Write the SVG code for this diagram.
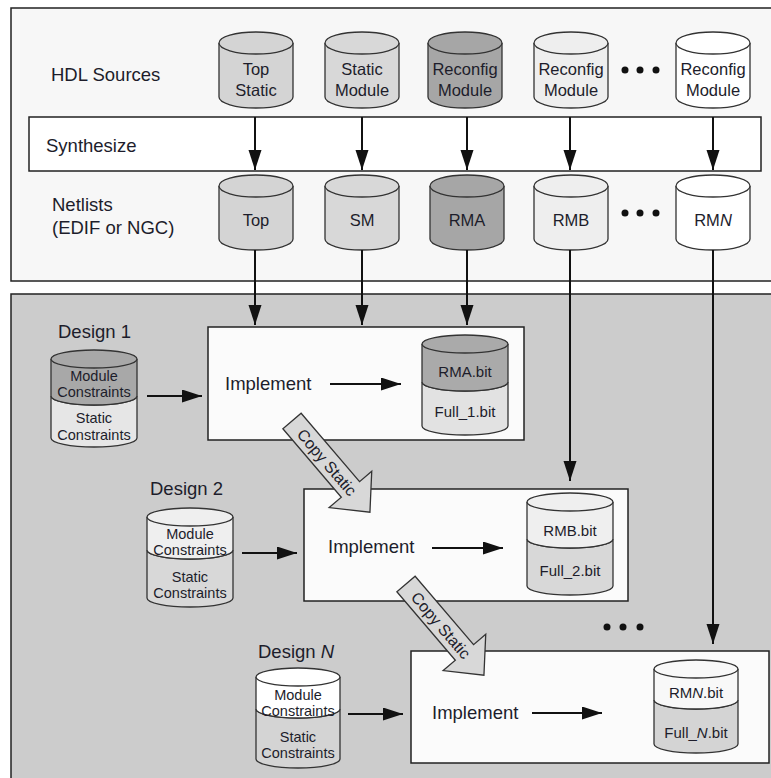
<svg xmlns="http://www.w3.org/2000/svg" width="771" height="778" viewBox="0 0 771 778">
<defs>
<marker id="ah" markerUnits="userSpaceOnUse" markerWidth="22" markerHeight="14" refX="20" refY="6.5" orient="auto"><path d="M0,0 L20,6.5 L0,13 Z" fill="#111"/></marker>
<style>
text{font-family:"Liberation Sans",Arial,sans-serif;fill:#1d1d2b}
.lbl{font-size:18.5px}
.cyl{font-size:16.5px;text-anchor:middle}
.sm{font-size:14.5px;text-anchor:middle}
.cs{font-size:16px;text-anchor:middle}
.bit{font-size:15px;text-anchor:middle}
.s{stroke:#333;stroke-width:1.3}
.c{stroke:#111;stroke-width:2;fill:none;marker-end:url(#ah)}
.dot{fill:#111}
</style>
</defs>
<rect x="11" y="8" width="780" height="273" fill="#f7f7f7" stroke="#222" stroke-width="1.5"/>
<rect x="11" y="294" width="780" height="500" fill="#cccccc" stroke="#222" stroke-width="1.5"/>
<rect x="29" y="117" width="732" height="54" fill="#fff" stroke="#222" stroke-width="1.5"/>
<g id="labels">
<text class="lbl" x="51" y="81">HDL Sources</text>
<text class="lbl" x="46" y="152">Synthesize</text>
<text class="lbl" x="52" y="211">Netlists</text>
<text class="lbl" x="52" y="234">(EDIF or NGC)</text>
</g>
<g id="src-top"><path class="s" fill="#d4d4d4" d="M219,43 L219,97 A37,11 0 0 0 293,97 L293,43"/><ellipse class="s" fill="#d4d4d4" cx="256" cy="43" rx="37" ry="11"/><text class="cyl" x="256" y="75">Top</text><text class="cyl" x="256" y="96">Static</text></g>
<g id="src-static"><path class="s" fill="#d8d8d8" d="M325,43 L325,97 A37,11 0 0 0 399,97 L399,43"/><ellipse class="s" fill="#d8d8d8" cx="362" cy="43" rx="37" ry="11"/><text class="cyl" x="362" y="75">Static</text><text class="cyl" x="362" y="96">Module</text></g>
<g id="src-rma"><path class="s" fill="#a6a6a6" d="M428,43 L428,97 A37,11 0 0 0 502,97 L502,43"/><ellipse class="s" fill="#a6a6a6" cx="465" cy="43" rx="37" ry="11"/><text class="cyl" x="465" y="75">Reconfig</text><text class="cyl" x="465" y="96">Module</text></g>
<g id="src-rmb"><path class="s" fill="#eeeeee" d="M534,43 L534,97 A37,11 0 0 0 608,97 L608,43"/><ellipse class="s" fill="#eeeeee" cx="571" cy="43" rx="37" ry="11"/><text class="cyl" x="571" y="75">Reconfig</text><text class="cyl" x="571" y="96">Module</text></g>
<g id="src-rmn"><path class="s" fill="#ffffff" d="M676,43 L676,97 A37,11 0 0 0 750,97 L750,43"/><ellipse class="s" fill="#ffffff" cx="713" cy="43" rx="37" ry="11"/><text class="cyl" x="713" y="75">Reconfig</text><text class="cyl" x="713" y="96">Module</text></g>
<g id="dots-top"><circle class="dot" cx="625" cy="70" r="3.5"/><circle class="dot" cx="640" cy="70" r="3.5"/><circle class="dot" cx="656" cy="70" r="3.5"/></g>
<g id="net-top"><path class="s" fill="#d4d4d4" d="M219,186 L219,239 A37,11 0 0 0 293,239 L293,186"/><ellipse class="s" fill="#d4d4d4" cx="256" cy="186" rx="37" ry="11"/><text class="cyl" x="256" y="226">Top</text></g>
<g id="net-sm"><path class="s" fill="#d8d8d8" d="M325,186 L325,239 A37,11 0 0 0 399,239 L399,186"/><ellipse class="s" fill="#d8d8d8" cx="362" cy="186" rx="37" ry="11"/><text class="cyl" x="362" y="226">SM</text></g>
<g id="net-rma"><path class="s" fill="#a6a6a6" d="M430,186 L430,239 A37,11 0 0 0 504,239 L504,186"/><ellipse class="s" fill="#a6a6a6" cx="467" cy="186" rx="37" ry="11"/><text class="cyl" x="467" y="226">RMA</text></g>
<g id="net-rmb"><path class="s" fill="#eeeeee" d="M534,186 L534,239 A37,11 0 0 0 608,239 L608,186"/><ellipse class="s" fill="#eeeeee" cx="571" cy="186" rx="37" ry="11"/><text class="cyl" x="571" y="226">RMB</text></g>
<g id="net-rmn"><path class="s" fill="#ffffff" d="M676,186 L676,239 A37,11 0 0 0 750,239 L750,186"/><ellipse class="s" fill="#ffffff" cx="713" cy="186" rx="37" ry="11"/><text class="cyl" x="713" y="226">RM<tspan font-style="italic">N</tspan></text></g>
<g id="dots-net"><circle class="dot" cx="625" cy="213" r="3.5"/><circle class="dot" cx="640" cy="213" r="3.5"/><circle class="dot" cx="656" cy="213" r="3.5"/></g>

<g id="box1"><rect x="208" y="327" width="316" height="113" fill="#fbfbfb" stroke="#222" stroke-width="1.5"/><text class="lbl" x="225" y="390">Implement</text></g>
<g id="box2"><rect x="304" y="489" width="324" height="112" fill="#fbfbfb" stroke="#222" stroke-width="1.5"/><text class="lbl" x="328" y="553">Implement</text></g>
<g id="box3"><rect x="411" y="651" width="358" height="112" fill="#fbfbfb" stroke="#222" stroke-width="1.5"/><text class="lbl" x="432" y="719">Implement</text></g>

<g id="design1"><text class="lbl" x="58" y="338">Design 1</text>
<path class="s" fill="#e6e6e6" d="M51,396 L51,438 A43,9 0 0 0 137,438 L137,396 A43,9 0 0 1 51,396 Z"/>
<path class="s" fill="#a8a8a8" d="M51,359 L51,396 A43,9 0 0 0 137,396 L137,359"/>
<ellipse class="s" fill="#a8a8a8" cx="94" cy="359" rx="43" ry="9"/>
<text class="sm" x="94" y="381">Module</text><text class="sm" x="94" y="397">Constraints</text><text class="sm" x="94" y="423">Static</text><text class="sm" x="94" y="440">Constraints</text></g>

<g id="design2"><text class="lbl" x="150" y="495">Design 2</text>
<path class="s" fill="#d8d8d8" d="M147,550 L147,598 A43,9 0 0 0 233,598 L233,550 A43,9 0 0 1 147,550 Z"/>
<path class="s" fill="#efefef" d="M147,517 L147,550 A43,9 0 0 0 233,550 L233,517"/>
<ellipse class="s" fill="#efefef" cx="190" cy="517" rx="43" ry="9"/>
<text class="sm" x="190" y="539">Module</text><text class="sm" x="190" y="555">Constraints</text><text class="sm" x="190" y="582">Static</text><text class="sm" x="190" y="598">Constraints</text></g>

<g id="designN"><text class="lbl" x="258" y="658">Design <tspan font-style="italic">N</tspan></text>
<path class="s" fill="#d4d4d4" d="M256,709 L256,759 A42,9 0 0 0 340,759 L340,709 A42,9 0 0 1 256,709 Z"/>
<path class="s" fill="#ffffff" d="M256,677 L256,709 A42,9 0 0 0 340,709 L340,677"/>
<ellipse class="s" fill="#ffffff" cx="298" cy="677" rx="42" ry="9"/>
<text class="sm" x="298" y="700">Module</text><text class="sm" x="298" y="716">Constraints</text><text class="sm" x="298" y="742">Static</text><text class="sm" x="298" y="758">Constraints</text></g>

<g id="out1">
<path class="s" fill="#e2e2e2" d="M422,382 L422,426 A43,9 0 0 0 508,426 L508,382 A43,9 0 0 1 422,382 Z"/>
<path class="s" fill="#aaaaaa" d="M422,344 L422,382 A43,9 0 0 0 508,382 L508,344"/>
<ellipse class="s" fill="#aaaaaa" cx="465" cy="344" rx="43" ry="9"/>
<text class="bit" x="465" y="377">RMA.bit</text><text class="bit" x="465" y="417">Full_1.bit</text></g>

<g id="out2">
<path class="s" fill="#d8d8d8" d="M527,539 L527,586 A43,9 0 0 0 613,586 L613,539 A43,9 0 0 1 527,539 Z"/>
<path class="s" fill="#efefef" d="M527,502 L527,539 A43,9 0 0 0 613,539 L613,502"/>
<ellipse class="s" fill="#efefef" cx="570" cy="502" rx="43" ry="9"/>
<text class="bit" x="570" y="536">RMB.bit</text><text class="bit" x="570" y="576">Full_2.bit</text></g>

<g id="outN">
<path class="s" fill="#d4d4d4" d="M654,700 L654,744 A42,9 0 0 0 738,744 L738,700 A42,9 0 0 1 654,700 Z"/>
<path class="s" fill="#f8f8f8" d="M654,669 L654,700 A42,9 0 0 0 738,700 L738,669"/>
<ellipse class="s" fill="#f8f8f8" cx="696" cy="669" rx="42" ry="9"/>
<text class="bit" x="696" y="698">RM<tspan font-style="italic">N</tspan>.bit</text><text class="bit" x="696" y="738">Full_<tspan font-style="italic">N</tspan>.bit</text></g>

<g id="dots-low"><circle class="dot" cx="607" cy="627" r="3.5"/><circle class="dot" cx="623" cy="627" r="3.5"/><circle class="dot" cx="640" cy="627" r="3.5"/></g>

<g id="copy1" transform="translate(292,421) rotate(49.5)"><path d="M0,-12 L90,-12 L90,-28 L120,0 L90,28 L90,12 L0,12 Z" fill="#d8d8d8" stroke="#333" stroke-width="1.3"/><text class="cs" x="54" y="6">Copy Static</text></g>
<g id="copy2" transform="translate(406,584) rotate(49.5)"><path d="M0,-12 L90,-12 L90,-28 L120,0 L90,28 L90,12 L0,12 Z" fill="#d8d8d8" stroke="#333" stroke-width="1.3"/><text class="cs" x="54" y="6">Copy Static</text></g>

<g id="connectors">
<line class="c" x1="255" y1="117" x2="255" y2="170"/>
<line class="c" x1="362" y1="117" x2="362" y2="170"/>
<line class="c" x1="467" y1="117" x2="467" y2="170"/>
<line class="c" x1="570" y1="117" x2="570" y2="170"/>
<line class="c" x1="713" y1="117" x2="713" y2="170"/>
<line class="c" x1="255" y1="250" x2="255" y2="325"/>
<line class="c" x1="362" y1="250" x2="362" y2="325"/>
<line class="c" x1="467" y1="250" x2="467" y2="325"/>
<line class="c" x1="570" y1="250" x2="570" y2="481"/>
<line class="c" x1="713" y1="250" x2="713" y2="644"/>
<line class="c" x1="147" y1="396" x2="202" y2="396"/>
<line class="c" x1="330" y1="384" x2="401" y2="384"/>
<line class="c" x1="242" y1="553" x2="297" y2="553"/>
<line class="c" x1="432" y1="548" x2="503" y2="548"/>
<line class="c" x1="348" y1="714" x2="403" y2="714"/>
<line class="c" x1="532" y1="713" x2="602" y2="713"/>
</g>
</svg>
